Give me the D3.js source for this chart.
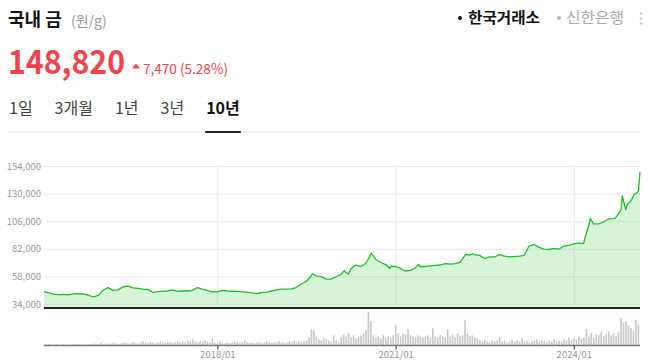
<!DOCTYPE html>
<html>
<head>
<meta charset="utf-8">
<script src="https://cdn.jsdelivr.net/npm/d3@7"></script>
<style>
  body { margin: 0; background: #fff; }
  svg { display: block; }
</style>
</head>
<body>
<script>
const w = 648;
const h = 363;

// 국내 금 (원/g), 10년
const priceDates = [
  '2015-02-01','2015-03-01','2015-04-01','2015-05-01','2015-06-01','2015-07-01','2015-08-01','2015-09-01','2015-10-01','2015-11-01','2015-12-01',
  '2016-01-01','2016-02-01','2016-03-01','2016-04-01','2016-05-01','2016-06-01','2016-07-01','2016-08-01','2016-09-01','2016-10-01','2016-11-01','2016-12-01',
  '2017-01-01','2017-02-01','2017-03-01','2017-04-01','2017-05-01','2017-06-01','2017-07-01','2017-08-01','2017-09-01','2017-10-01','2017-11-01','2017-12-01',
  '2018-01-01','2018-02-01','2018-03-01','2018-04-01','2018-05-01','2018-06-01','2018-07-01','2018-08-01','2018-09-01','2018-10-01','2018-11-01','2018-12-01',
  '2019-01-01','2019-02-01','2019-03-01','2019-04-01','2019-05-01','2019-06-01','2019-07-01','2019-08-01','2019-08-08','2019-09-01','2019-10-01','2019-11-01','2019-12-01',
  '2020-01-01','2020-02-01','2020-02-21','2020-03-01','2020-03-17','2020-04-01','2020-05-01','2020-06-01','2020-07-01','2020-08-05','2020-09-01','2020-10-01','2020-11-01','2020-11-26','2020-12-01',
  '2021-01-01','2021-02-01','2021-03-01','2021-04-01','2021-05-01','2021-05-22','2021-06-01','2021-07-01','2021-08-01','2021-09-01','2021-10-01','2021-11-01','2021-12-01',
  '2022-01-01','2022-02-01','2022-03-08','2022-04-01','2022-04-18','2022-05-01','2022-06-01','2022-07-01','2022-08-01','2022-09-01','2022-10-01','2022-11-01','2022-12-01',
  '2023-01-01','2023-02-01','2023-03-01','2023-04-01','2023-05-01','2023-06-01','2023-07-01','2023-08-01','2023-09-01','2023-10-01','2023-11-01','2023-12-01',
  '2024-01-01','2024-02-01','2024-03-01','2024-03-15','2024-04-01','2024-04-12','2024-05-01','2024-06-01','2024-07-01','2024-08-01','2024-08-25','2024-09-11',
  '2024-10-01','2024-10-17','2024-10-25','2024-11-15','2024-11-25','2024-12-12','2024-12-22',
  '2025-01-07','2025-01-24','2025-02-01','2025-02-11'
];
const prices = [
  44700,43600,42500,42200,42300,42000,42900,43000,42700,41700,40100,
  41400,46200,48300,45900,46300,49000,49500,48100,47500,46900,46600,44100,
  44800,45200,45300,46200,44900,45300,45300,45900,48200,46900,45700,44600,
  44600,45900,45300,45100,44900,44600,44400,43600,43100,44000,44400,45300,
  46300,47000,47000,47200,48300,51400,53600,58300,60300,58400,57800,55700,55600,
  57700,59700,63000,61400,60100,64400,67900,66600,69200,78100,72700,70100,68300,64900,66600,
  66600,64900,62700,63300,65300,68500,66600,66600,67200,67600,67900,69200,68600,
  69200,70300,77200,76600,77700,77000,76300,73600,74900,74900,77000,75600,75000,
  75300,75700,76200,84400,85700,83300,81800,81400,82300,81600,84400,84900,
  86200,87000,86500,94000,101800,108500,103600,103600,105300,107900,108200,108500,
  112300,115700,127900,116200,120800,122800,125000,
  129400,130800,132300,148820
];

// 거래량 (반월 단위, 2015-02 ~ 2025-02)
const volumes = [
  1,1,1.5,1,1,1.5,1,1,1.5,1,1,1,1.5,1,1.5,1,1,1.5,1,
  1.5,2,1.5,1.5,2.5,1.5,2,1.5,2,3,2,1.5,2,2.5,
  3,2,2,3.5,2.5,2,3,4,3,2.5,3.5,3,2,3,4,3,2.5,3,3.5,2.5,3,4,3,
  4,3,5,4,6.5,4,3,4,3.5,5,4,3,7,
  3,2.5,4,3,2,3,2.5,3,4,3,2.5,3,5,3,2.5,3,2,3,3.5,2.5,3,4,3,2.5,3,3,4,3,2.5,3,4,3.5,5,3,4,3.5,4,5,
  8,16,15,9,
  6,5,7,6,5,4,10,5,
  3,8,11,9,12,
  8,10,7,9,10,
  12,15,33,24,
  10,8,9,7,10,8,
  9,8,10,20,12,
  9,12,11,16,10,
  9,8,10,9,8,9,10,8,17,
  9,8,10,9,8,16,
  9,11,8,12,9,10,25,
  12,9,10,8,7,
  5,4,6,4,3,5,4,5,8,
  4,5,3,4,6,4,5,4,7,4,5,3,4,5,6,4,5,4,3,5,4,6,4,5,4,
  6,5,8,5,7,6,9,7,8,16,
  9,12,8,11,10,13,9,11,14,10,12,9,13,
  27,22,24,20,17,15,25,20
];

const yTicks = [34000, 58000, 82000, 106000, 130000, 154000];
const xTickDates = ['2018-01-01', '2021-01-01', '2024-01-01'];
const tabs = ['1일', '3개월', '1년', '3년', '10년'];

const font = "'Noto Sans CJK KR', 'Noto Sans', sans-serif";
const red = '#f0444c';

const parse = d3.timeParse('%Y-%m-%d');
const data = priceDates.map((d, i) => ({ date: parse(d), value: prices[i] }));

const svg = d3.select('body')
  .append('svg')
  .attr('width', w)
  .attr('height', h)
  .style('font-family', font);

// ---- header ----
svg.append('text').text('국내 금')
  .attr('x', 8).attr('y', 26)
  .style('font-size', '18px').style('font-weight', 'bold').style('fill', '#111');
svg.append('text').text('(원/g)')
  .attr('x', 71).attr('y', 26)
  .style('font-size', '14px').style('fill', '#999');

svg.append('text').text(d3.format(',')(prices[prices.length - 1]))
  .attr('x', 8).attr('y', 74)
  .attr('textLength', 117).attr('lengthAdjust', 'spacingAndGlyphs')
  .style('font-size', '33px').style('font-weight', 'bold').style('fill', red);
svg.append('path')
  .attr('d', 'M132,68.5 L140,68.5 L136,63.5 Z')
  .attr('fill', red);
svg.append('text').text('7,470 (5.28%)')
  .attr('x', 143).attr('y', 74)
  .attr('textLength', 85).attr('lengthAdjust', 'spacingAndGlyphs')
  .style('font-size', '14px').style('fill', red);

svg.append('circle').attr('cx', 460).attr('cy', 18).attr('r', 2).attr('fill', '#111');
svg.append('text').text('한국거래소')
  .attr('x', 468).attr('y', 23)
  .attr('textLength', 72).attr('lengthAdjust', 'spacingAndGlyphs')
  .style('font-size', '15px').style('font-weight', 'bold').style('fill', '#111');
svg.append('circle').attr('cx', 559).attr('cy', 18).attr('r', 2).attr('fill', '#bbb');
svg.append('text').text('신한은행')
  .attr('x', 566).attr('y', 23)
  .attr('textLength', 58).attr('lengthAdjust', 'spacingAndGlyphs')
  .style('font-size', '15px').style('fill', '#aaa');
[13.5, 18.5, 23.5].forEach(cy => {
  svg.append('circle').attr('cx', 641).attr('cy', cy).attr('r', 1.3).attr('fill', '#ccc');
});

// tabs
let tx = 9;
tabs.forEach((t, i) => {
  const sel = i === tabs.length - 1;
  const el = svg.append('text').text(t)
    .attr('x', tx).attr('y', 114)
    .style('font-size', '16px')
    .style('font-weight', sel ? 'bold' : 'normal')
    .style('fill', sel ? '#111' : '#444');
  const tw = el.node().getComputedTextLength();
  if (sel) {
    svg.append('rect')
      .attr('x', tx - 1).attr('y', 131)
      .attr('width', tw + 2).attr('height', 2)
      .attr('fill', '#222');
  }
  tx += tw + 22;
});
svg.insert('line', 'rect')
  .attr('x1', 8).attr('x2', 640).attr('y1', 132).attr('y2', 132)
  .attr('stroke', '#ebebeb');

// ---- price chart ----
const plotLeft = 44, plotRight = 640;
const plotTop = 166, plotBottom = 304, base = 308;

const x = d3.scaleTime()
  .domain([data[0].date, data[data.length - 1].date])
  .range([plotLeft, plotRight]);
const y = d3.scaleLinear()
  .domain([yTicks[0], yTicks[yTicks.length - 1]])
  .range([plotBottom, plotTop]);

const gy = svg.append('g')
  .attr('transform', `translate(${plotLeft},0)`)
  .call(d3.axisLeft(y)
    .tickValues(yTicks)
    .tickFormat(d3.format(','))
    .tickSize(-(plotRight - plotLeft))
    .tickPadding(3));
gy.select('.domain').remove();
gy.selectAll('line').attr('stroke', '#ebebeb');
gy.selectAll('text')
  .style('font-family', font)
  .style('font-size', '9.5px')
  .style('fill', '#999');

const gx = svg.append('g')
  .attr('transform', `translate(0,${plotBottom})`)
  .call(d3.axisBottom(x)
    .tickValues(xTickDates.map(parse))
    .tickFormat('')
    .tickSize(-(plotBottom - plotTop)));
gx.select('.domain').remove();
gx.selectAll('line').attr('stroke', '#ebebeb');

const area = d3.area()
  .x(d => x(d.date))
  .y0(base)
  .y1(d => y(d.value));
const line = d3.line()
  .x(d => x(d.date))
  .y(d => y(d.value));

svg.append('path')
  .datum(data)
  .attr('d', area)
  .attr('fill', 'rgba(40, 196, 40, 0.18)');
svg.append('path')
  .datum(data)
  .attr('d', line)
  .attr('fill', 'none')
  .attr('stroke', '#1dbf2b')
  .attr('stroke-width', 1.3)
  .attr('stroke-linejoin', 'round');

svg.append('line')
  .attr('x1', plotLeft).attr('x2', plotRight).attr('y1', base).attr('y2', base)
  .attr('stroke', '#222').attr('stroke-width', 1.8);

// ---- volume ----
const vBase = 345.5, vTop = 312;
const start = data[0].date;
const step = (d3.timeMonth.offset(start, 120) - start) / (volumes.length - 1);
const vy = d3.scaleLinear()
  .domain([0, d3.max(volumes)])
  .range([vBase, vTop]);

svg.append('g')
  .selectAll('rect')
  .data(volumes)
  .enter()
  .append('rect')
  .attr('x', (d, i) => x(new Date(+start + i * step)) - 0.8)
  .attr('y', d => vy(d))
  .attr('width', 1.6)
  .attr('height', d => vBase - vy(d))
  .attr('fill', '#c8c8c8');

const gv = svg.append('g')
  .attr('transform', `translate(0,${vBase})`)
  .call(d3.axisBottom(x)
    .tickValues(xTickDates.map(parse))
    .tickFormat(d3.timeFormat('%Y/%m'))
    .tickSize(4)
    .tickPadding(2));
gv.select('.domain')
  .attr('d', `M${plotLeft},0H${plotRight}`)
  .attr('stroke', '#7a7a7a')
  .attr('stroke-width', 1.6);
gv.selectAll('line').attr('stroke', '#333');
gv.selectAll('text')
  .style('font-family', font)
  .style('font-size', '9.5px')
  .style('fill', '#999');
</script>
</body>
</html>
